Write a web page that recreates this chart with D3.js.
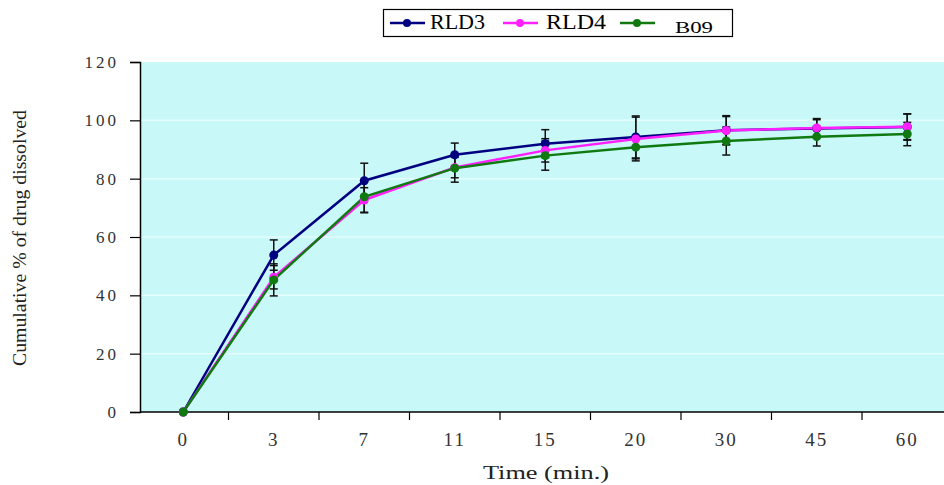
<!DOCTYPE html>
<html lang="en">
<head>
<meta charset="utf-8">
<script src="https://d3js.org/d3.v7.min.js"></script>
<style>
  body { margin: 0; background: #fff; }
  svg { display: block; }
</style>
</head>
<body>
<script>
// sampling times (min.) shown as categories
var times = ["0", "3", "7", "11", "15", "20", "30", "45", "60"];

var rld3 = [0, 53.8, 79.3, 88.2, 92.0, 94.3, 96.6, 97.2, 97.7];
var rld4 = [0, 46.2, 72.7, 83.8, 89.7, 93.6, 96.5, 97.4, 97.8];
var b09  = [0, 45.3, 73.8, 83.6, 87.9, 90.8, 92.9, 94.4, 95.3];

var rld3Err = [0, 5.2, 6.0, 4.0, 4.8, 7.2, 5.0, 3.0, 4.5];
var rld4Err = [0, 4.0, 4.2, 3.5, 4.0, 7.5, 4.8, 3.2, 4.4];
var b09Err  = [0, 5.5, 5.5, 4.8, 5.0, 4.0, 4.8, 3.2, 4.0];

var yTicks = [0, 20, 40, 60, 80, 100, 120];

var series = [
  {name: "RLD3", values: rld3, err: rld3Err, color: "#000080"},
  {name: "RLD4", values: rld4, err: rld4Err, color: "#ff20ff"},
  {name: "B09",  values: b09,  err: b09Err,  color: "#107a10"}
];

var serif = "'Liberation Serif', 'Times New Roman', Times, 'DejaVu Serif', serif";

var width = 944, height = 485;
var plot = {left: 140, top: 62, bottom: 412};

var svg = d3.select("body").append("svg")
    .attr("width", width)
    .attr("height", height);

var x = d3.scaleBand()
    .domain(times)
    .range([138, 138 + 9 * 90.5])
    .paddingInner(0).paddingOuter(0);
var cx = function(t) { return x(t) + x.bandwidth() / 2; };

var y = d3.scaleLinear()
    .domain([0, 120])
    .range([plot.bottom, plot.top]);

// plot area
svg.append("rect")
    .attr("x", plot.left).attr("y", plot.top)
    .attr("width", width - plot.left).attr("height", plot.bottom - plot.top)
    .attr("fill", "#c8f8f8");

svg.append("g").selectAll("line")
    .data(yTicks.slice(1, -1))
    .enter().append("line")
    .attr("x1", plot.left).attr("x2", width)
    .attr("y1", function(d) { return y(d); })
    .attr("y2", function(d) { return y(d); })
    .attr("stroke", "#e6fdfd")
    .attr("stroke-width", 1.5);

// y axis
var yAxis = svg.append("g")
    .attr("transform", "translate(" + plot.left + ",0)")
    .call(d3.axisLeft(y).tickValues(yTicks).tickSize(10).tickPadding(11));
yAxis.select(".domain").attr("stroke", "#000").attr("stroke-width", 1.5);
yAxis.selectAll(".tick line").attr("stroke", "#000").attr("stroke-width", 1.2);
yAxis.selectAll("text")
    .style("font-family", serif)
    .attr("font-size", 17)
    .attr("letter-spacing", "3px")
    .attr("fill", "#333");

// x axis (labels at band centers, ticks at band edges)
var xAxis = svg.append("g")
    .attr("transform", "translate(0," + plot.bottom + ")")
    .call(d3.axisBottom(x).tickSize(0).tickPadding(21));
xAxis.select(".domain").remove();
xAxis.append("line")
    .attr("x1", plot.left).attr("x2", width)
    .attr("stroke", "#000").attr("stroke-width", 1.5);
xAxis.selectAll(".edge")
    .data(times.slice(1))
    .enter().append("line")
    .attr("class", "edge")
    .attr("x1", function(d) { return x(d); })
    .attr("x2", function(d) { return x(d); })
    .attr("y1", 0).attr("y2", 8)
    .attr("stroke", "#000").attr("stroke-width", 1.2);
xAxis.selectAll("text")
    .style("font-family", serif)
    .attr("font-size", 19)
    .attr("letter-spacing", "2px")
    .attr("fill", "#333");

// axis titles
svg.append("text")
    .attr("x", 546).attr("y", 479)
    .attr("text-anchor", "middle")
    .style("font-family", serif)
    .attr("font-size", 19)
    .attr("textLength", 126)
    .attr("lengthAdjust", "spacingAndGlyphs")
    .attr("fill", "#222")
    .text("Time (min.)");

svg.append("text")
    .attr("transform", "translate(26,238) rotate(-90)")
    .attr("text-anchor", "middle")
    .style("font-family", serif)
    .attr("font-size", 18)
    .attr("textLength", 256)
    .attr("lengthAdjust", "spacingAndGlyphs")
    .attr("fill", "#222")
    .text("Cumulative % of drug dissolved");

// lines
var line = d3.line()
    .x(function(d, i) { return cx(times[i]); })
    .y(function(d) { return y(d); });

series.forEach(function(s) {
  svg.append("path")
      .datum(s.values)
      .attr("d", line)
      .attr("fill", "none")
      .attr("stroke", s.color)
      .attr("stroke-width", 2.5);
});

// error bars
series.forEach(function(s) {
  var g = svg.append("g").attr("stroke", "#111").attr("stroke-width", 1.5);
  s.values.forEach(function(v, i) {
    if (!s.err[i]) return;
    var px = cx(times[i]);
    var y1 = y(v + s.err[i]), y2 = y(v - s.err[i]);
    g.append("line").attr("x1", px).attr("x2", px).attr("y1", y1).attr("y2", y2);
    g.append("line").attr("x1", px - 4).attr("x2", px + 4).attr("y1", y1).attr("y2", y1);
    g.append("line").attr("x1", px - 4).attr("x2", px + 4).attr("y1", y2).attr("y2", y2);
  });
});

// markers
series.forEach(function(s) {
  svg.append("g").selectAll("circle")
      .data(s.values)
      .enter().append("circle")
      .attr("cx", function(d, i) { return cx(times[i]); })
      .attr("cy", function(d) { return y(d); })
      .attr("r", 4.5)
      .attr("fill", s.color);
});

// legend
var legend = svg.append("g");
legend.append("rect")
    .attr("x", 383.5).attr("y", 9.5)
    .attr("width", 349).attr("height", 27)
    .attr("fill", "#fff").attr("stroke", "#000").attr("stroke-width", 1.2);
var legX = [390, 503, 620];
var legTextX = [430, 546, 675];
var legLen = [55, 60, 38];
series.forEach(function(s, i) {
  legend.append("line")
      .attr("x1", legX[i]).attr("x2", legX[i] + 35)
      .attr("y1", 23).attr("y2", 23)
      .attr("stroke", s.color).attr("stroke-width", 2.5);
  legend.append("circle")
      .attr("cx", legX[i] + 17).attr("cy", 23).attr("r", 4)
      .attr("fill", s.color);
  legend.append("text")
      .attr("x", legTextX[i]).attr("y", s.name === "B09" ? 33 : 29)
      .style("font-family", serif)
      .attr("font-size", s.name === "B09" ? 17 : 21)
      .attr("textLength", legLen[i])
      .attr("lengthAdjust", "spacingAndGlyphs")
      .text(s.name);
});
</script>
</body>
</html>
